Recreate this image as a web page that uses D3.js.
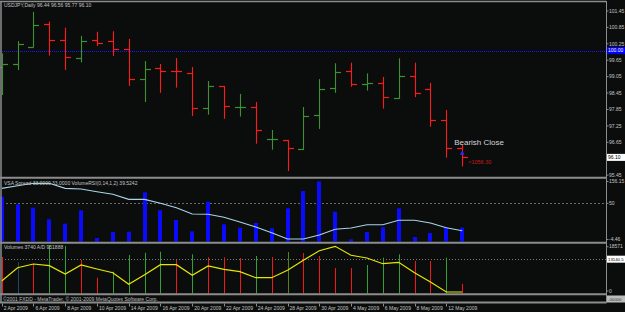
<!DOCTYPE html>
<html><head><meta charset="utf-8">
<script src="https://cdn.jsdelivr.net/npm/d3@7"></script>
<style>html,body{margin:0;padding:0;background:#0b0d0d;overflow:hidden}svg{display:block}</style>
</head><body><svg id="c" width="625" height="312"></svg>
<script>
// ---------- data ----------
const dates = ["2 Apr 2009","3 Apr 2009","6 Apr 2009","7 Apr 2009","8 Apr 2009","9 Apr 2009","10 Apr 2009",
  "13 Apr 2009","14 Apr 2009","15 Apr 2009","16 Apr 2009","17 Apr 2009","20 Apr 2009","21 Apr 2009","22 Apr 2009",
  "23 Apr 2009","24 Apr 2009","27 Apr 2009","28 Apr 2009","29 Apr 2009","30 Apr 2009","1 May 2009","4 May 2009",
  "5 May 2009","6 May 2009","7 May 2009","8 May 2009","11 May 2009","12 May 2009","13 May 2009"];
const open  = [99.40,99.51,100.14,100.96,100.40,99.72,100.40,100.34,100.05,98.95,99.35,99.26,99.18,97.89,98.70,
  97.95,97.93,96.76,96.72,96.42,97.64,98.62,99.25,98.78,98.83,98.27,99.06,98.59,97.45,96.44];
const high  = [99.90,100.35,101.42,101.06,100.84,100.54,100.69,100.71,100.43,99.62,99.51,99.73,99.40,98.89,98.71,
  98.42,98.12,97.10,96.74,97.94,98.96,99.54,99.56,99.17,99.04,99.72,99.56,98.82,97.83,96.56];
const low   = [98.38,99.29,100.11,99.82,99.29,99.57,100.17,99.80,98.71,98.12,98.46,98.65,97.61,97.66,97.51,
  97.59,96.60,96.38,95.60,96.37,97.14,98.46,98.68,98.54,97.88,98.24,98.30,97.22,96.09,95.77];
const close = [99.51,100.23,100.95,100.40,99.76,100.36,100.27,100.07,98.96,99.32,99.27,99.25,97.90,98.70,97.98,
  97.95,97.09,96.76,96.44,97.62,98.60,99.23,98.78,98.82,98.30,99.07,98.44,97.45,96.43,96.10];
const priceTicks = [101.45,100.85,100.25,99.65,99.05,98.45,97.85,97.25,96.65,95.45];
const alertLevel = 100.00;
const dateLabels = ["2 Apr 2009","6 Apr 2009","8 Apr 2009","10 Apr 2009","14 Apr 2009","16 Apr 2009","20 Apr 2009",
  "22 Apr 2009","24 Apr 2009","28 Apr 2009","30 Apr 2009","4 May 2009","6 May 2009","8 May 2009","12 May 2009"];

const vsaSpread = [115.5,95.1,86.0,55.0,43.2,79.1,4.9,21.0,21.8,127.2,79.1,53.1,22.8,102.1,41.6,
  32.5,45.1,30.9,84.4,130.7,156.15,75.3,1.4,21.0,33.6,84.4,7.6,18.3,32.5,32.5];
const volumeRSI = [55.74,56.74,57.66,57.66,55.74,55.48,54.44,53.45,51.53,51.53,50.00,48.32,45.91,45.80,44.65,
  42.85,40.94,38.76,36.35,36.35,37.88,40.06,40.56,41.82,41.82,43.50,43.50,42.47,40.67,39.52];
const vsaRange = [-4.46,156.15];
const rsiLevel = 50;

const volumes = [14000,12000,11300,18400,18190,12830,6050,8350,14740,15620,16000,12830,15010,13860,13860,
  13590,14360,13980,15890,15510,14360,9760,9760,10910,13710,15010,12440,12440,13710,3740];
const volType = ["down","flat","down","up","up","down","down","up","up","up","up","down","up","down","down",
  "down","up","down","olive","down","down","down","down","up","up","up","down","down","up","down"];
const adLine = [4790,9880,11300,10650,7470,10910,9380,7960,3520,7200,11030,11030,6970,10530,9270,
  8350,6050,6050,8880,12710,16390,18070,14630,13590,11410,11950,7960,4400,570,570];
const volRange = [0,18571];
const volLevel = 13140.5;

// ---------- layout ----------
const svg = d3.select("#c");
const R = 606; // right edge of plot
const font = "'Liberation Sans', Arial, sans-serif";
const txt = "#c4c4c4";
svg.append("rect").attr("width",625).attr("height",312).attr("fill","#0b0d0d");

const x = d3.scalePoint().domain(dates).range([1.7, 462.2]);
const X = d => Math.round(x(d)) + 0.5;
const yP = d3.scaleLinear().domain([95.42, 101.74]).range([176, 3]);
const yV = d3.scaleLinear().domain(vsaRange).range([241.5, 181.5]);
const yR = d3.scaleLinear().domain([35.2, 59.7]).range([242, 178]);
const yVol = d3.scaleLinear().domain(volRange).range([293.5, 245]);

// ---------- main panel ----------
const gM = svg.append("g");
gM.append("line").attr("x1",2).attr("x2",R).attr("y1",Math.round(yP(alertLevel))+0.5).attr("y2",Math.round(yP(alertLevel))+0.5)
  .attr("stroke","#1a1aff").attr("stroke-dasharray","1,1").attr("stroke-width",1.2);
const up = "#3f9030", dn = "#ff1a1a";
dates.forEach((d,i) => {
  const c = close[i] >= open[i] ? up : dn;
  const xx = X(d);
  gM.append("line").attr("x1",xx).attr("x2",xx).attr("y1",yP(high[i])).attr("y2",yP(low[i])).attr("stroke",c).attr("stroke-width",1.1);
  const yo = Math.round(yP(open[i]))+0.5, yc = Math.round(yP(close[i]))+0.5;
  gM.append("line").attr("x1",xx-5.5).attr("x2",xx).attr("y1",yo).attr("y2",yo).attr("stroke",c).attr("stroke-width",1.2);
  gM.append("line").attr("x1",xx).attr("x2",xx+5.5).attr("y1",yc).attr("y2",yc).attr("stroke",c).attr("stroke-width",1.2);
});
const last = dates.length-1;
gM.append("text").attr("x",x(dates[last])-8).attr("y",yP(high[last])).text("Bearish Close")
  .attr("font-family",font).attr("font-size",8).attr("fill","#d4d4d4");
gM.append("text").attr("x",x(dates[last])+6).attr("y",yP(close[last])+6.5).text("<1056:30")
  .attr("font-family",font).attr("font-size",5.5).attr("fill","#c81a1a");
gM.append("path").attr("transform",`translate(${x(dates[last])},${yP(close[last])-4})`)
  .attr("d",d3.symbol(d3.symbolTriangle,10)()).attr("fill","#2a2aff");
gM.append("text").attr("x",4).attr("y",7).text("USDJPY,Daily  96.44 96.56 95.77 96.10")
  .attr("font-family",font).attr("font-size",5).attr("fill",txt);

// ---------- VSA panel ----------
const gV = svg.append("g");
gV.append("line").attr("x1",2).attr("x2",R).attr("y1",Math.round(yR(rsiLevel))+0.5).attr("y2",Math.round(yR(rsiLevel))+0.5)
  .attr("stroke","#6a6a6a").attr("stroke-dasharray","2,2");
gV.selectAll("rect.v").data(vsaSpread).join("rect")
  .attr("x",(v,i)=>Math.round(x(dates[i]))-2).attr("width",4)
  .attr("y",v=>yV(v)).attr("height",v=>yV(vsaRange[0])-yV(v)).attr("fill","#0a0aff");
gV.append("path").datum(volumeRSI)
  .attr("d",d3.line().x((v,i)=>x(dates[i])).y(v=>yR(v)))
  .attr("fill","none").attr("stroke","#a8d4e6").attr("stroke-width",1.1);
gV.append("text").attr("x",4).attr("y",185).text("VSA Spread 33.0000 33.0000  VolumeRSI(0,14,1,2) 39.5242")
  .attr("font-family",font).attr("font-size",5).attr("fill",txt);

// ---------- Volume panel ----------
const gL = svg.append("g");
gL.append("line").attr("x1",2).attr("x2",R).attr("y1",Math.round(yVol(volLevel))+0.5).attr("y2",Math.round(yVol(volLevel))+0.5)
  .attr("stroke","#7a7a7a").attr("stroke-dasharray","1,2");
const volColor = d3.scaleOrdinal().domain(["up","down","flat","olive"]).range(["#34a032","#f01818","#1c4a6a","#56801c"]);
gL.selectAll("line.vol").data(volumes).join("line")
  .attr("x1",(v,i)=>X(dates[i])).attr("x2",(v,i)=>X(dates[i]))
  .attr("y1",yVol(0)).attr("y2",v=>yVol(v))
  .attr("stroke",(v,i)=>volColor(volType[i])).attr("stroke-width",1);
gL.append("path").datum(adLine)
  .attr("d",d3.line().x((v,i)=>x(dates[i])).y(v=>yVol(v)))
  .attr("fill","none").attr("stroke","#e6e600").attr("stroke-width",1.2);
gL.append("text").attr("x",4).attr("y",249).text("Volumes 3740  A/D 951888")
  .attr("font-family",font).attr("font-size",5).attr("fill",txt);

// ---------- frame ----------
const fr = svg.append("g").attr("stroke","#8c8c8c");
[1.5].forEach(y=>fr.append("line").attr("x1",0).attr("x2",R).attr("y1",y).attr("y2",y).attr("stroke-width",1.5));
[177.7,242.7,294.3,302.6].forEach(y=>fr.append("line").attr("x1",0).attr("x2",R+0.5).attr("y1",y).attr("y2",y).attr("stroke-width",2));
fr.append("line").attr("x1",1).attr("x2",1).attr("y1",1).attr("y2",303).attr("stroke-width",1.5);
fr.append("line").attr("x1",R+0.5).attr("x2",R+0.5).attr("y1",1).attr("y2",303).attr("stroke-width",1);

svg.append("text").attr("x",3).attr("y",300.5).text("©2001 FXDD - MetaTrader, © 2001-2009 MetaQuotes Software Corp.")
  .attr("font-family",font).attr("font-size",5).attr("fill","#bdbdbd");

// ---------- right axes ----------
const ax = svg.append("g").attr("font-family",font).attr("font-size",5).attr("fill",txt);
function rlabel(y, t){
  ax.append("line").attr("x1",R).attr("x2",R+2.5).attr("y1",y).attr("y2",y).attr("stroke","#8c8c8c");
  ax.append("text").attr("x",609).attr("y",y).attr("dy","0.35em").text(t);
}
priceTicks.forEach(p=>rlabel(yP(p), p.toFixed(2)));
rlabel(yV(vsaRange[1]), vsaRange[1].toFixed(2));
rlabel(yV(vsaRange[0])-2, vsaRange[0].toFixed(2));
rlabel(yR(rsiLevel), String(rsiLevel));
rlabel(yVol(volRange[1])+1.7, String(volRange[1]));
rlabel(yVol(volRange[0])-2.5, String(volRange[0]));
function box(y, t, bg, fg, fs){
  ax.append("rect").attr("x",607).attr("y",y-3.5).attr("width",18).attr("height",7).attr("fill",bg);
  ax.append("text").attr("x",608).attr("y",y).attr("dy","0.35em").attr("fill",fg).attr("font-size",fs||5).text(t);
}
box(yP(alertLevel), alertLevel.toFixed(2), "#0000ff", "#ffffff");
box(yP(close[last]), close[last].toFixed(2), "#ffffff", "#000000");
box(yVol(volLevel), String(volLevel), "#ffffff", "#000000", 4.3);
box(299, "-00000", "#bcbcbc", "#303030", 4.3);

// ---------- date axis ----------
const da = svg.append("g").attr("font-family",font).attr("font-size",5).attr("fill",txt);
dateLabels.forEach(d=>{
  da.append("line").attr("x1",X(d)).attr("x2",X(d)).attr("y1",303.5).attr("y2",306.5).attr("stroke","#8c8c8c");
  da.append("text").attr("x",x(d)+2).attr("y",310).text(d);
});
</script></body></html>
